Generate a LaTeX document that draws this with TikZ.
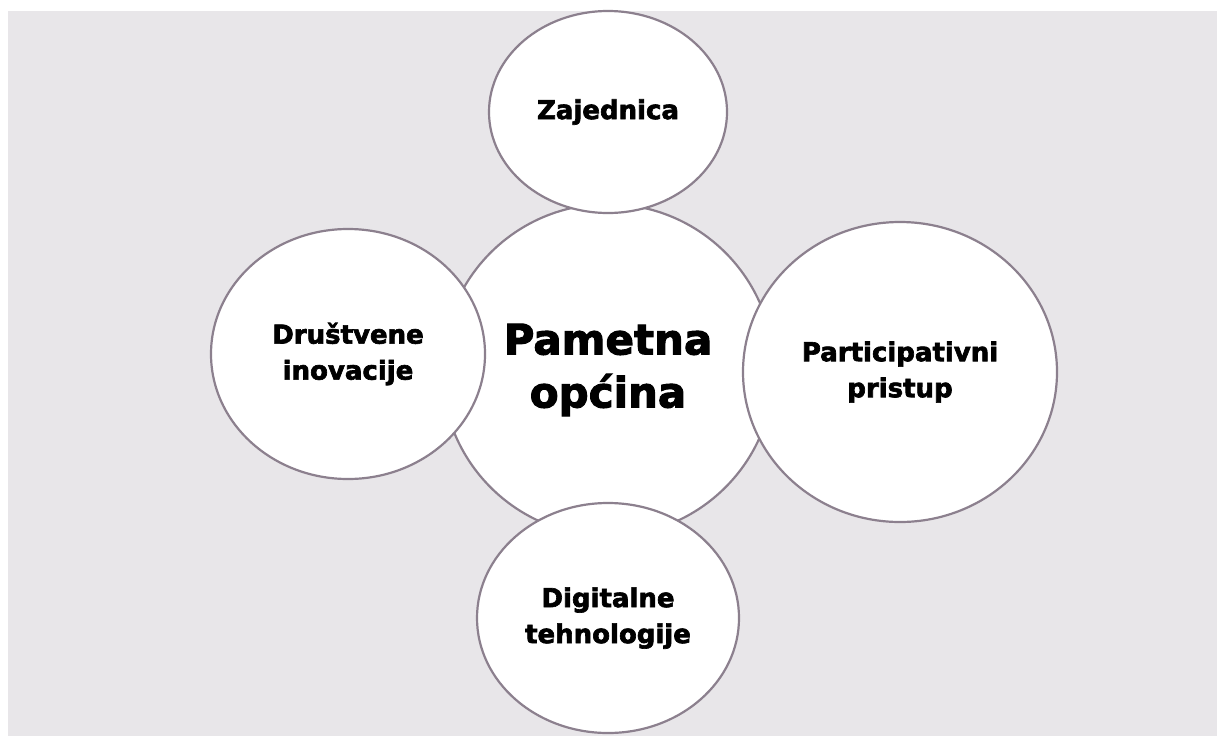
\documentclass[tikz,border=0pt]{standalone}
\usepackage{fontspec}
\newfontfamily\heavy{DejaVu Sans}[UprightFont={* Bold}, FakeBold=2.5]
\usetikzlibrary{shapes.geometric}
\definecolor{bgcol}{RGB}{232,230,233}
\definecolor{edgecol}{RGB}{140,128,142}
\tikzset{
  bubble/.style={ellipse, draw=edgecol, fill=white, line width=2.2pt, inner sep=0pt,
    align=center, font=\fontsize{26}{36}\selectfont\heavy, text=black},
  hub/.style={bubble, font=\fontsize{42}{53}\selectfont\heavy}
}
\begin{document}
\begin{tikzpicture}[x=1pt,y=-1pt]
\useasboundingbox (0,0) rectangle (1217,736);
\fill[white] (0,0) rectangle (1217,736);
\fill[bgcol] (8,11) rectangle (1217,736);
\node[hub, minimum width=332pt, minimum height=332pt] (hub) at (608,370) {Pametna\\općina};
\node[bubble, minimum width=238pt, minimum height=202pt] (top) at (608,112) {Zajednica};
\node[bubble, minimum width=274pt, minimum height=250pt] (left) at (348,354) {Društvene\\inovacije};
\node[bubble, minimum width=314pt, minimum height=300pt] (right) at (900,372) {Participativni\\pristup};
\node[bubble, minimum width=262pt, minimum height=230pt] (bottom) at (608,618) {Digitalne\\tehnologije};
\end{tikzpicture}
\end{document}
